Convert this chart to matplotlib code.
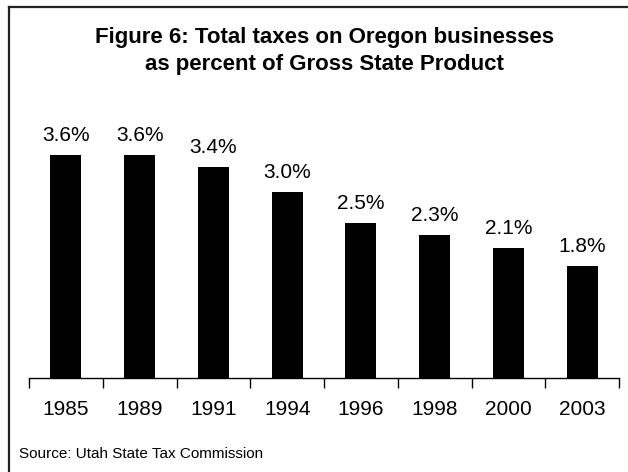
import numpy as np
import matplotlib.pyplot as plt
from matplotlib.lines import Line2D

plt.rcParams['font.family'] = ['Liberation Sans', 'DejaVu Sans']

years = ['1985', '1989', '1991', '1994', '1996', '1998', '2000', '2003']
share = [3.6, 3.6, 3.4, 3.0, 2.5, 2.3, 2.1, 1.8]

W, H = 628, 472
fig = plt.figure(figsize=(W / 100, H / 100), dpi=100)
ax = fig.add_axes([29 / W, 94 / H, 590 / W, 248 / H])

x = np.arange(len(years))
ax.bar(x, share, width=0.42, color='black')
for xi, v in zip(x, share):
    ax.text(xi, v + 0.225, f'{v:.1f}%', ha='center', va='baseline', fontsize=15)

ax.set_xlim(-0.5, len(years) - 0.5)
ax.set_ylim(0, 4.0)
ax.set_yticks([])
for side in ['left', 'right', 'top']:
    ax.spines[side].set_visible(False)
ax.spines['bottom'].set_linewidth(1.0)

# tick marks between categories, labels centred under bars
ax.set_xticks(np.arange(len(years) + 1) - 0.5)
ax.set_xticklabels([])
ax.tick_params(axis='x', which='major', direction='out', length=7, width=1)
ax.set_xticks(x, minor=True)
ax.set_xticklabels(years, minor=True, fontsize=15)
ax.tick_params(axis='x', which='minor', length=0, pad=15.5)

tx = 324.5 / W
fig.text(tx, 1 - 43 / H, 'Figure 6: Total taxes on Oregon businesses',
         ha='center', va='baseline', fontsize=16, fontweight='bold')
fig.text(tx, 1 - 70 / H, 'as percent of Gross State Product',
         ha='center', va='baseline', fontsize=16, fontweight='bold')
fig.text(19 / W, 1 - 458 / H, 'Source: Utah State Tax Commission',
         ha='left', va='baseline', fontsize=11)

# chart frame: top and left edges only
frame = dict(transform=fig.transFigure, color='#222222', linewidth=1.6)
fig.lines.append(Line2D([9 / W, 1], [1 - 7 / H, 1 - 7 / H], **frame))
fig.lines.append(Line2D([9 / W, 9 / W], [1 - 7 / H, 0], **frame))

fig.savefig('out.png', dpi=100)
